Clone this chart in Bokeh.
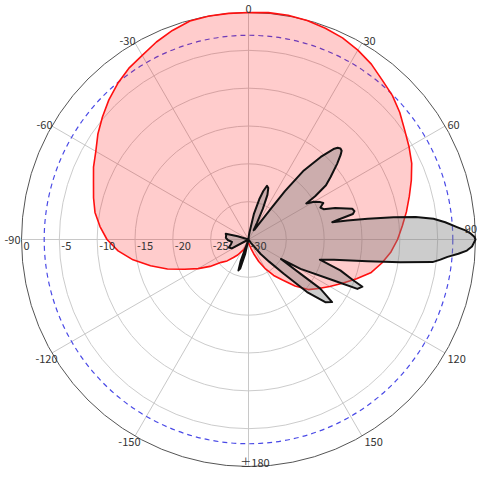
import numpy as np
from bokeh.plotting import figure
from bokeh.models import Range1d, ColumnDataSource
from bokeh.embed import file_html
from bokeh.resources import INLINE
from bokeh.core.properties import value

# ---------------- data (angle in degrees, level in dB) ----------------
red_angles = list(range(-180, 180, 5))
red_db = [
    -29.5, -29.5, -29.5, -29.3, -29.0, -28.5, -28.2, -27.5, -26.9, -26.0,   # -180 .. -135
    -25.3, -23.8, -22.3, -20.7, -18.6, -16.6, -14.5, -12.7, -11.3, -10.3,   # -130 .. -85
    -9.4, -8.8, -8.2, -7.4, -6.7, -5.7, -4.8, -3.9, -3.1, -2.4,             # -80 .. -35
    -1.9, -1.2, -0.6, -0.1, 0.0, 0.0, 0.0, 0.1, 0.1, -0.05,                 # -30 .. 15
    -0.3, -0.6, -1.1, -1.7, -2.5, -3.1, -3.9, -4.8, -5.5, -6.2,             # 20 .. 65
    -7.1, -8.0, -8.8, -9.6, -10.3, -11.1, -12.1, -13.2, -14.8, -16.3,       # 70 .. 115
    -17.6, -18.7, -19.7, -21.3, -23.0, -24.2, -25.5, -26.8, -28.0, -28.8,   # 120 .. 165
    -29.2, -29.5,                                                           # 170 .. 175
]

black_angles = [
    -180, -170, -167, -164, -162, -160, -157, -125, -118, -112, -105, -98, -92,
    -86, -80, -76, -73, -70, 0, 5, 8, 10, 12, 15, 17, 19, 21, 23, 25, 27, 29,
    31, 33, 35, 36, 37, 38.7, 41.2, 43.2, 44.2, 45.3, 46.4, 47.5, 49.5, 52.8, 55,
    57, 58, 60,
    62.5, 64, 66, 68, 70, 73.5, 75, 76.3, 77.5, 78.3, 79.1, 80.1, 81.25, 82.3,
    83.6, 85, 86.6, 87.6, 88.5, 89.3, 90, 90.8, 91.8, 92.9, 93.9, 95, 96, 97, 98.5,
    100.4, 103.4, 105.8,
    108.6, 111.3, 112.5, 114.4, 115.7, 119.4, 121, 123.4, 124.4, 126.8, 129.2,
    131.9, 134.2, 137, 140, 145, 150,
]
black_db = [
    -30, -30, -28, -26, -25.7, -27, -30, -30, -27.5, -27.2, -27.6, -27.8, -27.3,
    -27.0, -27.0, -26.9, -28.5, -30, -30, -29.5, -29, -28.5, -26.5, -24.5, -23.3,
    -22.5, -22.7, -23.6, -25.5, -27.5, -28.6,
    -28.5, -27.8, -26.5, -25.0, -22.0, -18.3, -15.5, -13.6, -13.1, -12.9, -13.0,
    -13.5, -14.6, -16.4, -17.5,
    -19.5, -21.0, -20.0,
    -19.3, -19.0, -19.6, -19.3, -17.8, -15.7, -15.5, -15.8, -17.8, -18.7, -16.7,
    -14.0, -10.6, -7.7,
    -5.4, -3.9, -2.4, -1.3, -0.6, -0.15, 0.0, -0.2, -0.45, -1.1, -2.2, -3.6, -4.5,
    -5.5, -9.7,
    -14.0, -18.4, -20.2,
    -17.2, -15.1, -13.7, -14.2, -17.5, -22.1, -25.0, -21.8, -18.5, -16.2, -16.9,
    -19.6, -23.5, -26.0, -27.5, -29.5, -30,
]

ring_db = [0, -5, -10, -15, -20, -25, -30]
ring_labels = ["0", "-5", "-10", "-15", "-20", "-25", "-30"]
ref_db = -3
angle_ticks = [0, 30, 60, 90, 120, 150, 180, -150, -120, -90, -60, -30]
angle_labels = ["0", "30", "60", "90", "120", "150", "±180", "-150", "-120", "-90", "-60", "-30"]

# ---------------- geometry ----------------
DB_MIN = -30.0
PX = 227 / 30.0          # screen pixels per dB of radius
W, H = 477, 471
CXP, CYP = 248, 239      # centre, in pixels from left / from top


def to_xy(ang, db):
    r = np.clip(np.asarray(db, dtype=float) - DB_MIN, 0, None)
    t = np.radians(np.asarray(ang, dtype=float))
    return r * np.sin(t), r * np.cos(t)


p = figure(width=W, height=H,
           x_range=Range1d(-CXP / PX, (W - CXP) / PX),
           y_range=Range1d(-(H - CYP) / PX, CYP / PX),
           x_axis_type=None, y_axis_type=None,
           output_backend="svg", toolbar_location=None,
           min_border=0, outline_line_color=None,
           background_fill_color="white", border_fill_color="white")

# grid rings and spokes
inner = [d - DB_MIN for d in ring_db if DB_MIN < d < 0]
p.circle(x=[0] * len(inner), y=[0] * len(inner), radius=inner,
         fill_color=None, line_color="#cccccc", line_width=1)
sx, sy = to_xy(angle_ticks, [0] * len(angle_ticks))
p.segment(x0=[0] * len(sx), y0=[0] * len(sy), x1=list(sx), y1=list(sy),
          line_color="#c8c8c8", line_width=1)
p.circle(x=[0], y=[0], radius=[ref_db - DB_MIN], fill_color=None,
         line_color="#4a4ae6", line_width=1.2, line_dash="5 4")
p.circle(x=[0], y=[0], radius=[0 - DB_MIN], fill_color=None,
         line_color="#555555", line_width=1)

# patterns
rx, ry = to_xy(red_angles, red_db)
p.patch(list(rx), list(ry), fill_color="red", fill_alpha=0.2, line_color=None)
p.line(list(rx) + [rx[0]], list(ry) + [ry[0]], line_color="#ff1010", line_width=1.6)

bx, by = to_xy(black_angles, black_db)
p.patch(list(bx), list(by), fill_color="#7f7f7f", fill_alpha=0.4, line_color=None)
p.line(list(bx) + [bx[0]], list(by) + [by[0]], line_color="#111111", line_width=2,
       line_join="round")

# radial labels (below the horizontal axis on the left side)
p.text(x=[-(d - DB_MIN) for d in ring_db], y=[0] * len(ring_db), text=ring_labels,
       x_offset=2, y_offset=6, text_align="left", text_baseline="middle",
       text_font=value("Noto Sans CJK JP"), text_font_size="11px", text_color="#333333")

# angle labels
ax, ay = to_xy(angle_ticks, [0] * len(angle_ticks))
aligns = {0: "center", 180: "center", 90: "right", -90: "right"}
offs = {0: (0, -3.5), 30: (1.5, -2), 60: (2.4, -1.5), 90: (1.5, -11), 120: (2.4, 6),
        150: (2.5, 6), 180: (6.5, -5), -150: (5.5, 6), -120: (5.6, 6), -90: (-1, 0),
        -60: (0.6, -1.5), -30: (0.5, -2)}
src = ColumnDataSource(dict(
    x=list(ax), y=list(ay), text=angle_labels,
    align=[aligns.get(a, "left" if a > 0 else "right") for a in angle_ticks],
    xo=[offs[a][0] for a in angle_ticks], yo=[offs[a][1] for a in angle_ticks]))
p.text(x="x", y="y", text="text", source=src, x_offset="xo", y_offset="yo",
       text_align="align", text_baseline="middle",
       text_font=value("Noto Sans CJK JP"), text_font_size="11px", text_color="#333333")

open("out.html", "w").write(file_html(p, INLINE))
